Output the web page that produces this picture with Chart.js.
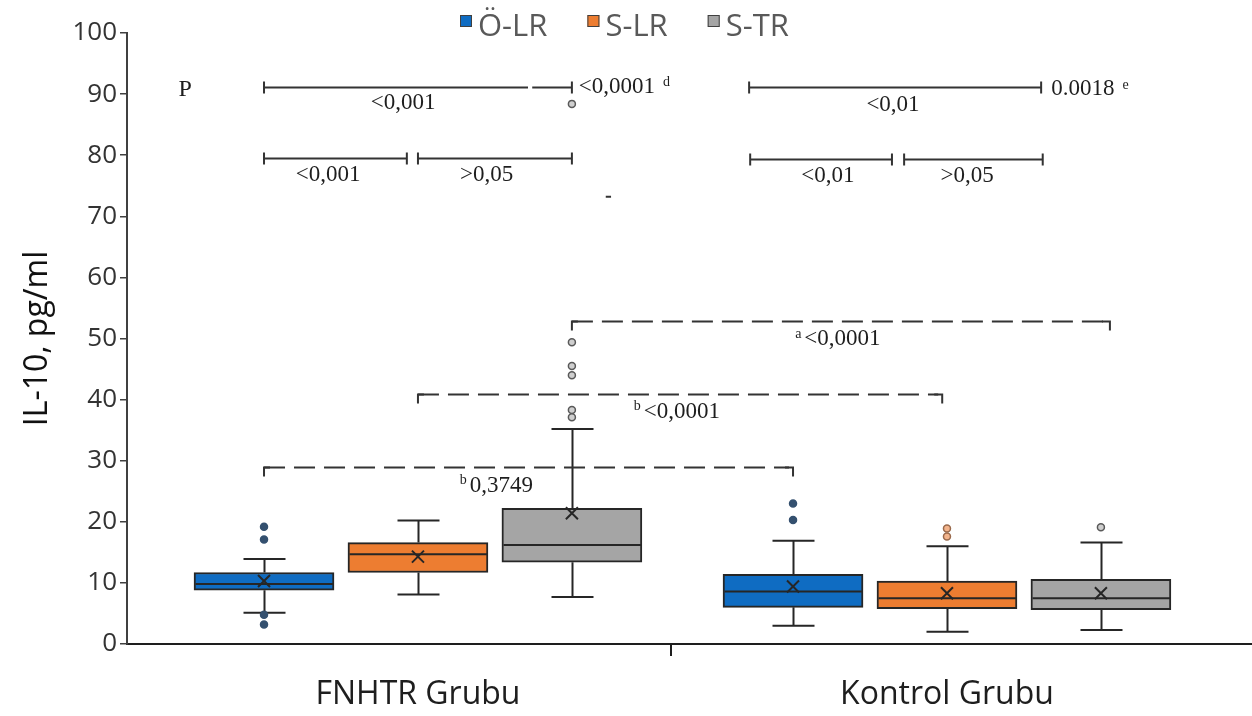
<!DOCTYPE html>
<html>
<head>
<meta charset="utf-8">
<script src="https://cdn.jsdelivr.net/npm/chart.js@4.4.1/dist/chart.umd.min.js"></script>
<style>
  html, body { margin: 0; padding: 0; background: #fff; }
  #wrap { width: 1252px; height: 716px; }
</style>
</head>
<body>
<div id="wrap"><canvas id="il10Chart" width="1252" height="716"></canvas></div>
<script>
// categories and series
const groups = ['FNHTR Grubu', 'Kontrol Grubu'];
const seriesNames = ['Ö-LR', 'S-LR', 'S-TR'];
const yTickValues = [0, 10, 20, 30, 40, 50, 60, 70, 80, 90, 100];

// box statistics, per series: [FNHTR, Kontrol]
const q1Values     = [[8.8, 6.0], [11.7, 5.8], [13.4, 5.6]];
const medianValues = [[9.8, 8.6], [14.7, 7.5], [16.2, 7.5]];
const q3Values     = [[11.7, 11.4], [16.6, 10.3], [22.2, 10.6]];
const whiskerLow   = [[5.1, 3.0], [8.1, 2.0], [7.7, 2.3]];
const whiskerHigh  = [[13.9, 16.9], [20.2, 16.0], [35.2, 16.6]];
const meanValues   = [[10.3, 9.4], [14.3, 8.3], [21.4, 8.3]];
const outlierValues = [
    [[19.2, 17.1, 4.8, 3.2], [23.0, 20.3]],
    [[], [18.9, 17.6]],
    [[88.4, 49.4, 45.5, 44.0, 38.3, 37.1], [19.1]]
];

// p-value notes
const solidNoteTexts = ['P', '<0,001', '<0,001', '>0,05', '<0,0001', '<0,01', '0.0018', '<0,01', '>0,05'];
const dashedNoteTexts = ['<0,0001', '<0,0001', '0,3749'];

const boxColors = ['#0f6cc2', '#ed7d31', '#a5a5a5'];
const outlierFill = ['#34506f', '#f3b48c', '#cfcfcf'];
const outlierBorder = ['#34506f', '#9a6a4c', '#595959'];

// x axis is linear: group g sits at g, series spread around it
const SERIES_OFFSET = 0.291;
const X_MIN = -0.550, X_MAX = 1.5766, DIVIDER = 0.478;
const boxX = (g, s) => g + (s - 1) * SERIES_OFFSET;

// annotation layout (axis units / value units)
const solidBrackets = [
    { from: boxX(0, 0), to: boxX(0, 2), y: 91.2, gap: [0.208, 0.216] },
    { from: boxX(0, 0), to: -0.021, y: 79.5 },
    { from: boxX(0, 1), to: boxX(0, 2), y: 79.5 },
    { from: 0.626, to: 1.178, y: 91.2 },
    { from: 0.628, to: 0.896, y: 79.4 },
    { from: 0.919, to: 1.181, y: 79.4 }
];
const solidNotePos = [
    { x: -0.440, y: 90.7, align: 'center' },
    { x: -0.028, y: 88.5, align: 'center' },
    { x: -0.170, y: 76.8, align: 'center' },
    { x: 0.130, y: 76.8, align: 'center' },
    { x: 0.304, y: 91.2, align: 'left', sup: 'd' },
    { x: 0.898, y: 88.3, align: 'center' },
    { x: 1.197, y: 90.8, align: 'left', sup: 'e' },
    { x: 0.775, y: 76.6, align: 'center' },
    { x: 1.038, y: 76.6, align: 'center' }
];
const dashedBrackets = [
    { from: boxX(0, 2), to: 1.308, y: 52.8, pre: 'a', tx: 0.713, ty: 49.9 },
    { from: boxX(0, 1), to: 0.991, y: 40.9, pre: 'b', tx: 0.408, ty: 38.0 },
    { from: boxX(0, 0), to: boxX(1, 0), y: 28.9, pre: 'b', tx: 0.079, ty: 25.9 }
];

const boxDatasets = seriesNames.map((name, s) => ({
    type: 'bar',
    label: name,
    data: groups.map((_, g) => ({ x: boxX(g, s), y: [q1Values[s][g], q3Values[s][g]] })),
    backgroundColor: boxColors[s],
    borderColor: '#262626',
    borderWidth: 2,
    borderSkipped: false,
    barThickness: 140,
    grouped: false,
    order: 3
}));

const outlierDatasets = seriesNames.map((name, s) => ({
    type: 'scatter',
    label: name + ' outliers',
    data: groups.flatMap((_, g) => outlierValues[s][g].map(v => ({ x: boxX(g, s), y: v }))),
    pointRadius: 3.5,
    pointBackgroundColor: outlierFill[s],
    pointBorderColor: outlierBorder[s],
    pointBorderWidth: 1.5,
    order: 1
}));

const meanDataset = {
    type: 'scatter',
    label: 'mean',
    data: seriesNames.flatMap((_, s) => groups.map((_, g) => ({ x: boxX(g, s), y: meanValues[s][g] }))),
    pointStyle: 'crossRot',
    pointRadius: 8.5,
    pointBorderColor: '#262626',
    pointBorderWidth: 2,
    order: 0
};

// whiskers + median, drawn right after each box dataset
const boxParts = {
    id: 'boxParts',
    afterDatasetDraw(chart, args) {
        const meta = args.meta;
        if (meta.type !== 'bar') return;
        const s = args.index;
        const y = chart.scales.y;
        const ctx = chart.ctx;
        const cap = 21;
        ctx.save();
        ctx.strokeStyle = '#262626';
        ctx.lineWidth = 2;
        meta.data.forEach((bar, g) => {
            const x = Math.round(bar.x) + 0.5, half = bar.width / 2 - 1;
            const yTop = y.getPixelForValue(q3Values[s][g]);
            const yBot = y.getPixelForValue(q1Values[s][g]);
            const yHi = y.getPixelForValue(whiskerHigh[s][g]);
            const yLo = y.getPixelForValue(whiskerLow[s][g]);
            const yMed = y.getPixelForValue(medianValues[s][g]);
            ctx.beginPath();
            ctx.moveTo(x, yTop); ctx.lineTo(x, yHi);
            ctx.moveTo(x - cap, yHi); ctx.lineTo(x + cap, yHi);
            ctx.moveTo(x, yBot); ctx.lineTo(x, yLo);
            ctx.moveTo(x - cap, yLo); ctx.lineTo(x + cap, yLo);
            ctx.moveTo(x - half, yMed); ctx.lineTo(x + half, yMed);
            ctx.stroke();
        });
        ctx.restore();
    }
};

// p-value brackets and texts
const notes = {
    id: 'notes',
    afterDraw(chart) {
        const { ctx, scales: { x, y } } = chart;
        const px = u => x.getPixelForValue(u);
        const py = v => y.getPixelForValue(v);
        ctx.save();
        ctx.strokeStyle = '#333';
        ctx.lineWidth = 2;
        ctx.setLineDash([]);
        solidBrackets.forEach(b => {
            const x1 = px(b.from), x2 = px(b.to), yy = Math.round(py(b.y)) + 0.5;
            ctx.beginPath();
            if (b.gap) {
                ctx.moveTo(x1, yy); ctx.lineTo(px(b.gap[0]), yy);
                ctx.moveTo(px(b.gap[1]), yy); ctx.lineTo(x2, yy);
            } else {
                ctx.moveTo(x1, yy); ctx.lineTo(x2, yy);
            }
            ctx.moveTo(x1, yy - 6); ctx.lineTo(x1, yy + 6);
            ctx.moveTo(x2, yy - 6); ctx.lineTo(x2, yy + 6);
            ctx.stroke();
        });
        // small stray dash
        ctx.beginPath();
        ctx.moveTo(px(0.355), py(73.2)); ctx.lineTo(px(0.365), py(73.2));
        ctx.stroke();

        dashedBrackets.forEach(b => {
            const x1 = px(b.from), x2 = px(b.to), yy = Math.round(py(b.y)) + 0.5;
            ctx.setLineDash([21, 9]);
            ctx.beginPath();
            ctx.moveTo(x1, yy); ctx.lineTo(x2 - 4, yy);
            ctx.stroke();
            ctx.setLineDash([]);
            ctx.beginPath();
            ctx.moveTo(x1, yy + 9); ctx.lineTo(x1, yy); ctx.lineTo(x1 + 6, yy);
            ctx.moveTo(x2 - 8, yy); ctx.lineTo(x2, yy); ctx.lineTo(x2, yy + 9);
            ctx.stroke();
        });

        const mainFont = '23px "Liberation Serif"';
        const supFont = '14px "Liberation Serif"';
        ctx.fillStyle = '#1e1e1e';
        ctx.textBaseline = 'middle';
        solidNoteTexts.forEach((t, i) => {
            const p = solidNotePos[i];
            ctx.font = i === 0 ? '24px "Liberation Serif"' : mainFont;
            ctx.textAlign = p.align;
            const tx = px(p.x), ty = py(p.y);
            ctx.fillText(t, tx, ty);
            if (p.sup) {
                const w = ctx.measureText(t).width;
                ctx.font = supFont;
                ctx.textAlign = 'left';
                ctx.fillText(p.sup, tx + w + 8, ty - 4);
            }
        });
        dashedNoteTexts.forEach((t, i) => {
            const b = dashedBrackets[i];
            const tx = px(b.tx), ty = py(b.ty);
            ctx.textAlign = 'left';
            ctx.font = supFont;
            ctx.fillText(b.pre, tx, ty - 5);
            const w = ctx.measureText(b.pre).width;
            ctx.font = mainFont;
            ctx.fillText(t, tx + w + 3, ty);
        });
        ctx.restore();
    }
};

// legend at the top, centred
const topLegend = {
    id: 'topLegend',
    afterDraw(chart) {
        const ctx = chart.ctx;
        ctx.save();
        ctx.font = '31px "Open Sans"';
        const box = 12, gapText = 6, gapItem = 40;
        const widths = seriesNames.map(n => ctx.measureText(n).width);
        const total = widths.reduce((a, w) => a + box + gapText + w, 0) + gapItem * (seriesNames.length - 1);
        let cx = Math.round(624 - total / 2);
        ctx.textBaseline = 'alphabetic';
        ctx.textAlign = 'left';
        seriesNames.forEach((n, i) => {
            ctx.fillStyle = boxColors[i];
            ctx.fillRect(cx, 15, box, box);
            ctx.strokeStyle = '#404040';
            ctx.lineWidth = 1;
            ctx.strokeRect(cx + 0.5, 15.5, box - 1, box - 1);
            ctx.fillStyle = '#595959';
            ctx.fillText(n, cx + box + gapText, 36);
            cx += box + gapText + widths[i] + gapItem;
        });
        ctx.restore();
    }
};

Chart.defaults.font.family = '"Open Sans"';

const ctx = document.getElementById('il10Chart').getContext('2d');
new Chart(ctx, {
    type: 'bar',
    data: { datasets: [...boxDatasets, ...outlierDatasets, meanDataset] },
    options: {
        responsive: false,
        animation: false,
        events: [],
        devicePixelRatio: 1,
        layout: { autoPadding: false, padding: { top: 33, right: 0, bottom: 0, left: 0 } },
        plugins: { legend: { display: false }, tooltip: { enabled: false } },
        scales: {
            x: {
                type: 'linear',
                min: X_MIN,
                max: X_MAX,
                offset: false,
                afterBuildTicks: s => { s.ticks = [{ value: 0 }, { value: DIVIDER }, { value: 1 }]; },
                afterFit: s => { s.height = 72; },
                ticks: {
                    autoSkip: false,
                    maxRotation: 0,
                    padding: 20,
                    color: '#1e1e1e',
                    font: { size: 32 },
                    callback: (v, i) => i === 0 ? groups[0] : (i === 2 ? groups[1] : '')
                },
                grid: {
                    offset: false,
                    drawOnChartArea: false,
                    tickLength: 12,
                    lineWidth: 2,
                    color: c => c.index === 1 ? '#1e1e1e' : 'rgba(0,0,0,0)'
                },
                border: { color: '#1e1e1e', width: 2 }
            },
            y: {
                min: 0,
                max: 100,
                afterBuildTicks: s => { s.ticks = yTickValues.map(v => ({ value: v })); },
                afterFit: s => { s.width = 127; },
                ticks: { color: '#333', font: { size: 26 }, padding: 3 },
                grid: { drawOnChartArea: false, tickLength: 7, color: '#404040', lineWidth: 1.5 },
                border: { color: '#404040', width: 2 },
                title: {
                    display: true,
                    text: 'IL-10, pg/ml',
                    color: '#111',
                    font: { size: 32 },
                    padding: { top: 19, bottom: 0 }
                }
            }
        }
    },
    plugins: [boxParts, notes, topLegend]
});
</script>
</body>
</html>
